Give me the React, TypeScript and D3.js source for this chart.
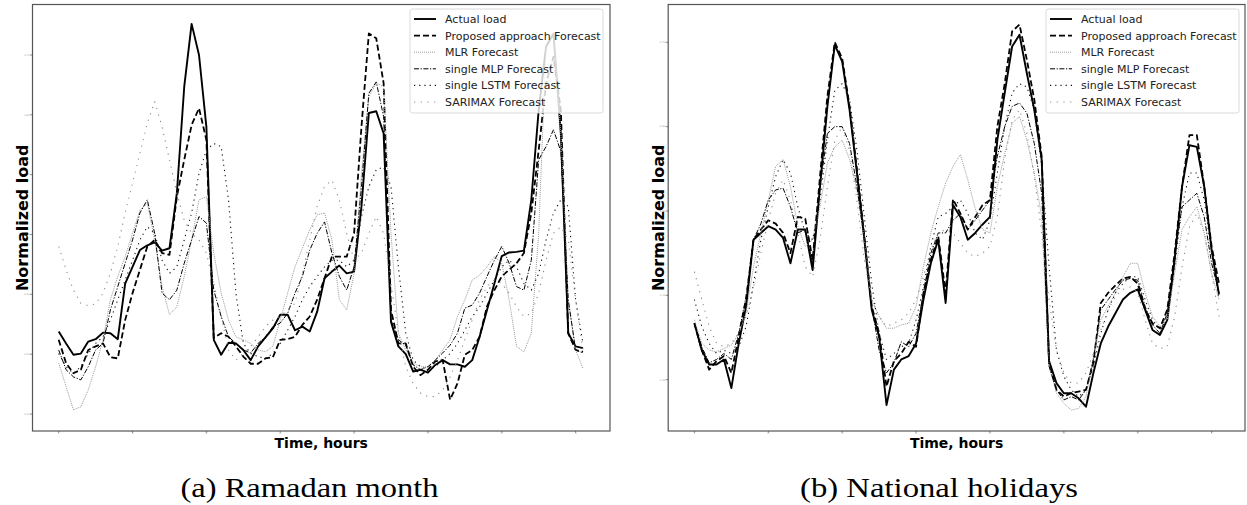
import React from "react";
import * as d3 from "d3";

const hours = Array.from({ length: 72 }, (_, i) => i);
const xTicks = [0, 10, 20, 30, 40, 50, 60, 70];
const ramadanYTicks = [0.1, 0.2, 0.3, 0.4, 0.5, 0.6, 0.7];
const holidayYTicks = [0.3, 0.4, 0.5, 0.6, 0.7];

const seriesNames = [
  "Actual load",
  "Proposed approach Forecast",
  "MLR Forecast",
  "single MLP Forecast",
  "single LSTM Forecast",
  "SARIMAX Forecast",
];

const ramadanActual = [
  0.238, 0.218, 0.199, 0.201, 0.221, 0.225, 0.236, 0.235, 0.225, 0.318, 0.346, 0.374,
  0.382, 0.387, 0.373, 0.377, 0.469, 0.647, 0.752, 0.700, 0.580, 0.224, 0.199, 0.219,
  0.218, 0.207, 0.190, 0.213, 0.228, 0.243, 0.266, 0.266, 0.240, 0.246, 0.238, 0.271,
  0.327, 0.338, 0.348, 0.335, 0.338, 0.447, 0.603, 0.606, 0.569, 0.254, 0.213, 0.200,
  0.171, 0.174, 0.169, 0.182, 0.190, 0.183, 0.183, 0.179, 0.190, 0.229, 0.274, 0.318,
  0.364, 0.370, 0.371, 0.373, 0.458, 0.608, 0.714, 0.736, 0.569, 0.235, 0.213, 0.210,
];
const ramadanProposed = [
  0.224, 0.185, 0.168, 0.174, 0.207, 0.213, 0.218, 0.195, 0.193, 0.257, 0.302, 0.341,
  0.380, 0.391, 0.369, 0.366, 0.463, 0.525, 0.583, 0.611, 0.558, 0.227, 0.235, 0.229,
  0.213, 0.196, 0.184, 0.184, 0.193, 0.195, 0.224, 0.225, 0.229, 0.249, 0.263, 0.291,
  0.327, 0.363, 0.363, 0.363, 0.402, 0.580, 0.736, 0.728, 0.653, 0.274, 0.218, 0.218,
  0.179, 0.165, 0.174, 0.188, 0.190, 0.124, 0.151, 0.199, 0.207, 0.229, 0.280, 0.307,
  0.330, 0.341, 0.352, 0.369, 0.436, 0.541, 0.653, 0.697, 0.608, 0.235, 0.207, 0.204,
];
const ramadanMLR = [
  0.185, 0.146, 0.107, 0.112, 0.140, 0.179, 0.224, 0.291, 0.330, 0.363, 0.402, 0.441,
  0.452, 0.391, 0.313, 0.266, 0.279, 0.330, 0.391, 0.458, 0.463, 0.369, 0.302, 0.257,
  0.229, 0.224, 0.218, 0.207, 0.204, 0.213, 0.257, 0.302, 0.346, 0.377, 0.408, 0.433,
  0.436, 0.391, 0.291, 0.274, 0.335, 0.502, 0.630, 0.653, 0.647, 0.402, 0.235, 0.207,
  0.185, 0.179, 0.179, 0.190, 0.207, 0.224, 0.263, 0.291, 0.324, 0.332, 0.346, 0.363,
  0.352, 0.291, 0.213, 0.204, 0.235, 0.402, 0.719, 0.736, 0.569, 0.291, 0.207, 0.176,
];
const ramadanMLP = [
  0.207, 0.174, 0.162, 0.157, 0.179, 0.207, 0.218, 0.274, 0.313, 0.352, 0.391, 0.436,
  0.458, 0.402, 0.302, 0.291, 0.307, 0.352, 0.391, 0.430, 0.419, 0.307, 0.263, 0.229,
  0.218, 0.207, 0.202, 0.218, 0.229, 0.246, 0.252, 0.268, 0.302, 0.330, 0.374, 0.402,
  0.421, 0.369, 0.330, 0.307, 0.346, 0.480, 0.636, 0.655, 0.597, 0.257, 0.224, 0.215,
  0.182, 0.174, 0.179, 0.190, 0.202, 0.215, 0.235, 0.277, 0.282, 0.302, 0.330, 0.357,
  0.380, 0.352, 0.313, 0.307, 0.357, 0.525, 0.547, 0.575, 0.539, 0.291, 0.207, 0.202,
];
const ramadanLSTM = [
  0.201, 0.179, 0.168, 0.179, 0.201, 0.218, 0.229, 0.257, 0.291, 0.324, 0.357, 0.391,
  0.413, 0.402, 0.357, 0.335, 0.346, 0.391, 0.436, 0.502, 0.541, 0.552, 0.547, 0.458,
  0.302, 0.218, 0.201, 0.196, 0.193, 0.201, 0.218, 0.240, 0.263, 0.291, 0.313, 0.330,
  0.346, 0.357, 0.357, 0.346, 0.357, 0.430, 0.480, 0.508, 0.513, 0.480, 0.346, 0.235,
  0.190, 0.179, 0.174, 0.179, 0.190, 0.201, 0.218, 0.240, 0.263, 0.279, 0.302, 0.324,
  0.346, 0.357, 0.346, 0.318, 0.307, 0.335, 0.391, 0.436, 0.458, 0.447, 0.291, 0.218,
];
const ramadanSARIMAX = [
  0.380, 0.341, 0.307, 0.285, 0.281, 0.284, 0.302, 0.335, 0.380, 0.436, 0.486, 0.536,
  0.586, 0.622, 0.580, 0.525, 0.469, 0.424, 0.402, 0.391, 0.369, 0.318, 0.263, 0.207,
  0.190, 0.201, 0.213, 0.229, 0.246, 0.257, 0.263, 0.274, 0.285, 0.335, 0.391, 0.447,
  0.480, 0.491, 0.458, 0.402, 0.357, 0.369, 0.402, 0.430, 0.402, 0.318, 0.235, 0.179,
  0.151, 0.135, 0.129, 0.129, 0.140, 0.162, 0.190, 0.224, 0.257, 0.291, 0.313, 0.324,
  0.318, 0.302, 0.279, 0.263, 0.268, 0.302, 0.357, 0.402, 0.413, 0.391, 0.291, 0.207,
];

const holidayActual = [
  0.367, 0.335, 0.318, 0.318, 0.324, 0.290, 0.343, 0.387, 0.466, 0.474, 0.482, 0.478,
  0.468, 0.438, 0.478, 0.478, 0.430, 0.529, 0.624, 0.697, 0.677, 0.620, 0.545, 0.466,
  0.383, 0.351, 0.270, 0.312, 0.324, 0.328, 0.343, 0.395, 0.438, 0.466, 0.391, 0.507,
  0.493, 0.466, 0.474, 0.484, 0.493, 0.584, 0.640, 0.695, 0.709, 0.663, 0.620, 0.561,
  0.322, 0.296, 0.284, 0.284, 0.278, 0.268, 0.308, 0.343, 0.363, 0.379, 0.395, 0.403,
  0.407, 0.383, 0.359, 0.353, 0.371, 0.442, 0.529, 0.578, 0.576, 0.529, 0.454, 0.401,
];
const holidayProposed = [
  0.367, 0.335, 0.312, 0.322, 0.328, 0.308, 0.351, 0.395, 0.466, 0.478, 0.489, 0.485,
  0.474, 0.450, 0.493, 0.491, 0.442, 0.541, 0.636, 0.700, 0.681, 0.624, 0.549, 0.470,
  0.387, 0.355, 0.292, 0.322, 0.331, 0.345, 0.339, 0.403, 0.442, 0.470, 0.403, 0.514,
  0.497, 0.478, 0.493, 0.507, 0.513, 0.600, 0.651, 0.713, 0.721, 0.679, 0.632, 0.565,
  0.320, 0.288, 0.280, 0.284, 0.286, 0.288, 0.320, 0.391, 0.403, 0.412, 0.420, 0.422,
  0.414, 0.383, 0.367, 0.361, 0.383, 0.450, 0.529, 0.590, 0.590, 0.529, 0.458, 0.414,
];
const holidayMLR = [
  0.371, 0.343, 0.335, 0.333, 0.337, 0.341, 0.355, 0.379, 0.434, 0.474, 0.513, 0.553,
  0.561, 0.529, 0.482, 0.458, 0.466, 0.505, 0.557, 0.576, 0.584, 0.561, 0.525, 0.466,
  0.395, 0.375, 0.361, 0.361, 0.365, 0.367, 0.387, 0.434, 0.474, 0.505, 0.533, 0.553,
  0.567, 0.537, 0.503, 0.478, 0.474, 0.529, 0.568, 0.604, 0.612, 0.584, 0.545, 0.493,
  0.316, 0.284, 0.272, 0.264, 0.266, 0.280, 0.328, 0.371, 0.387, 0.403, 0.422, 0.438,
  0.438, 0.403, 0.375, 0.363, 0.371, 0.426, 0.478, 0.493, 0.505, 0.474, 0.426, 0.395,
];
const holidayMLP = [
  0.367, 0.339, 0.320, 0.324, 0.331, 0.324, 0.355, 0.399, 0.466, 0.485, 0.513, 0.525,
  0.527, 0.505, 0.474, 0.478, 0.438, 0.529, 0.592, 0.600, 0.600, 0.580, 0.529, 0.466,
  0.387, 0.335, 0.308, 0.320, 0.345, 0.339, 0.355, 0.403, 0.450, 0.474, 0.474, 0.489,
  0.497, 0.478, 0.489, 0.501, 0.513, 0.565, 0.600, 0.624, 0.628, 0.616, 0.580, 0.521,
  0.316, 0.288, 0.276, 0.280, 0.276, 0.288, 0.324, 0.383, 0.395, 0.407, 0.418, 0.420,
  0.418, 0.387, 0.365, 0.355, 0.379, 0.446, 0.505, 0.513, 0.521, 0.493, 0.438, 0.403,
];
const holidayLSTM = [
  0.395, 0.363, 0.343, 0.331, 0.335, 0.331, 0.339, 0.363, 0.414, 0.466, 0.505, 0.541,
  0.561, 0.545, 0.505, 0.474, 0.466, 0.513, 0.584, 0.643, 0.651, 0.632, 0.572, 0.493,
  0.414, 0.355, 0.324, 0.331, 0.339, 0.343, 0.371, 0.410, 0.458, 0.493, 0.497, 0.505,
  0.513, 0.497, 0.474, 0.466, 0.489, 0.545, 0.600, 0.640, 0.651, 0.647, 0.620, 0.553,
  0.434, 0.335, 0.304, 0.288, 0.280, 0.288, 0.316, 0.355, 0.383, 0.403, 0.414, 0.422,
  0.422, 0.395, 0.371, 0.359, 0.371, 0.434, 0.505, 0.545, 0.545, 0.513, 0.450, 0.395,
];
const holidaySARIMAX = [
  0.428, 0.395, 0.363, 0.343, 0.339, 0.343, 0.355, 0.375, 0.410, 0.450, 0.489, 0.521,
  0.537, 0.513, 0.474, 0.434, 0.422, 0.466, 0.529, 0.584, 0.600, 0.572, 0.513, 0.442,
  0.395, 0.375, 0.363, 0.367, 0.371, 0.379, 0.395, 0.422, 0.454, 0.474, 0.478, 0.474,
  0.462, 0.450, 0.446, 0.450, 0.458, 0.493, 0.561, 0.608, 0.620, 0.592, 0.541, 0.474,
  0.395, 0.335, 0.308, 0.296, 0.296, 0.308, 0.331, 0.359, 0.383, 0.399, 0.407, 0.410,
  0.403, 0.371, 0.343, 0.337, 0.339, 0.375, 0.434, 0.481, 0.497, 0.474, 0.426, 0.375,
];

const seriesStyles = [
  { stroke: "#000", width: 1.9, dash: "none" },
  { stroke: "#000", width: 1.8, dash: "6,3" },
  { stroke: "#9a9a9a", width: 1.0, dash: "1,1" },
  { stroke: "#000", width: 1.0, dash: "5,1.6,1.2,1.6" },
  { stroke: "#111", width: 1.1, dash: "1.2,4" },
  { stroke: "#8a8a8a", width: 1.1, dash: "1.2,5.5" },
];

const panels = [
  {
    key: "a",
    frame: { x0: 32.5, x1: 610, y0: 4.5, y1: 431 },
    xRange: [58.7, 583],
    yDomain: [0.1, 0.7],
    yRange: [414, 55],
    yTicks: ramadanYTicks,
    data: [ramadanActual, ramadanProposed, ramadanMLR, ramadanMLP, ramadanLSTM, ramadanSARIMAX],
    caption: "(a) Ramadan month",
    captionX: 309.5,
    captionW: 258,
    legendX: 410,
  },
  {
    key: "b",
    frame: { x0: 668.2, x1: 1245, y0: 4.5, y1: 431 },
    xRange: [694.4, 1219],
    yDomain: [0.3, 0.7],
    yRange: [379.7, 42.3],
    yTicks: holidayYTicks,
    data: [holidayActual, holidayProposed, holidayMLR, holidayMLP, holidayLSTM, holidaySARIMAX],
    caption: "(b) National holidays",
    captionX: 939,
    captionW: 278,
    legendX: 1046,
  },
];

function Panel({ p }: { p: any }) {
  const x = d3.scaleLinear().domain([0, 71]).range(p.xRange);
  const y = d3.scaleLinear().domain(p.yDomain).range(p.yRange);
  const f = p.frame;
  const line = d3
    .line<number>()
    .x((_, i) => x(hours[i]))
    .y((d) => y(d));
  const cx = (f.x0 + f.x1) / 2;
  const cy = (f.y0 + f.y1) / 2;
  const lx = p.legendX;
  const lTop = 9;
  const rowH = 16.6;
  return (
    <g>
      <rect x={f.x0} y={f.y0} width={f.x1 - f.x0} height={f.y1 - f.y0} fill="#fff" />
      {p.data.map((s: number[], k: number) => (
        <path
          key={k}
          d={line(s) || ""}
          fill="none"
          stroke={seriesStyles[k].stroke}
          strokeWidth={seriesStyles[k].width}
          strokeDasharray={seriesStyles[k].dash}
          strokeLinejoin="round"
        />
      ))}
      <rect
        x={f.x0}
        y={f.y0}
        width={f.x1 - f.x0}
        height={f.y1 - f.y0}
        fill="none"
        stroke="#555"
        strokeWidth={1.2}
      />
      {xTicks.map((t) => (
        <g key={"x" + t}>
          <line x1={x(t)} x2={x(t)} y1={f.y1} y2={f.y1 + 2} stroke="#444" strokeWidth={0.6} />
          <text
            x={x(t)}
            y={f.y1 + 3.4}
            fontSize={1.8}
            fill="#999"
            textAnchor="middle"
            fontFamily="DejaVu Sans"
          >
            {t}
          </text>
        </g>
      ))}
      {p.yTicks.map((t: number) => (
        <g key={"y" + t}>
          <line x1={f.x0 - 2.5} x2={f.x0} y1={y(t)} y2={y(t)} stroke="#444" strokeWidth={0.6} />
          <text
            x={f.x0 - 3}
            y={y(t) + 0.8}
            fontSize={2.4}
            fill="#999"
            textAnchor="end"
            fontFamily="DejaVu Sans"
          >
            {d3.format(".2f")(t)}
          </text>
        </g>
      ))}
      <text
        x={cx}
        y={447.5}
        textAnchor="middle"
        fontFamily="DejaVu Sans"
        fontWeight="bold"
        fontSize={14}
        fill="#000"
      >
        Time, hours
      </text>
      <text
        transform={`translate(${f.x0 - 4.5},${cy}) rotate(-90)`}
        textAnchor="middle"
        fontFamily="DejaVu Sans"
        fontWeight="bold"
        fontSize={16}
        fill="#000"
      >
        Normalized load
      </text>
      <rect
        x={lx}
        y={lTop}
        width={193}
        height={104}
        rx={2.5}
        fill="#fff"
        fillOpacity={0.8}
        stroke="#d0d0d0"
        strokeWidth={0.8}
      />
      {seriesNames.map((name, k) => {
        const ry = lTop + 10 + rowH * k;
        return (
          <g key={name}>
            <line
              x1={lx + 4}
              x2={lx + 26}
              y1={ry}
              y2={ry}
              stroke={seriesStyles[k].stroke}
              strokeWidth={seriesStyles[k].width}
              strokeDasharray={seriesStyles[k].dash}
            />
            <text x={lx + 35} y={ry + 4} fontFamily="DejaVu Sans" fontSize={11} fill="#222">
              {name}
            </text>
          </g>
        );
      })}
      <text
        x={p.captionX - p.captionW / 2}
        y={496.7}
        fontFamily="Liberation Serif"
        fontSize={28}
        textLength={p.captionW}
        lengthAdjust="spacingAndGlyphs"
        fill="#000"
      >
        {p.caption}
      </text>
    </g>
  );
}

export default function App() {
  return (
    <svg
      width={1247}
      height={505}
      viewBox="0 0 1247 505"
      style={{ position: "absolute", left: 0, top: 0, background: "#fff" }}
    >
      <rect x={0} y={0} width={1247} height={505} fill="#fff" />
      {panels.map((p) => (
        <Panel key={p.key} p={p} />
      ))}
    </svg>
  );
}
